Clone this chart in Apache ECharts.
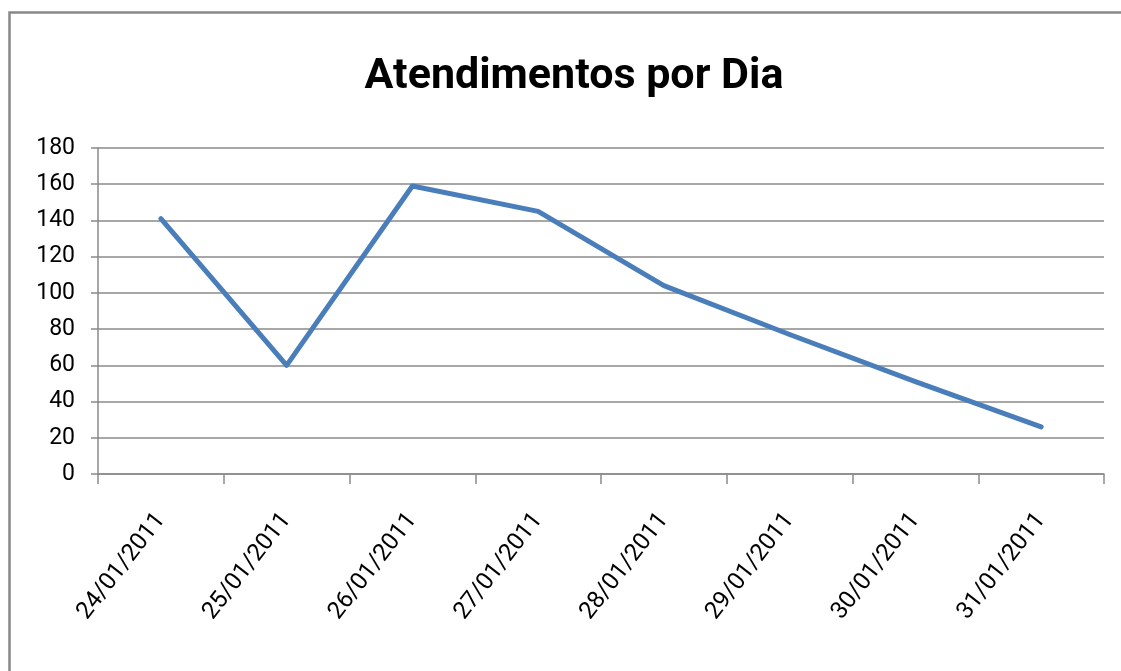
<!DOCTYPE html>
<html>
<head>
<meta charset="utf-8">
<script src="https://cdn.jsdelivr.net/npm/echarts@6/dist/echarts.min.js"></script>
<style>
html,body{margin:0;padding:0;background:#fff;}
#chart{width:1121px;height:671px;}
</style>
</head>
<body>
<div id="chart"></div>
<script>
const titleText = 'Atendimentos por Dia';
const categories = ['24/01/2011','25/01/2011','26/01/2011','27/01/2011','28/01/2011','29/01/2011','30/01/2011','31/01/2011'];
const values = [141, 60, 159, 145, 104, 77, 51, 26];
const yMin = 0, yMax = 180, yStep = 20;

const FONT = 'Roboto, "Open Sans", sans-serif';
const chart = echarts.init(document.getElementById('chart'), null, {renderer: 'canvas'});
chart.setOption({
  animation: false,
  backgroundColor: '#fff',
  title: {
    text: titleText,
    left: 569,
    textAlign: 'center',
    top: 51,
    textStyle: {fontFamily: FONT, fontWeight: 'bold', fontSize: 43, color: '#000'}
  },
  graphic: [{
    type: 'polyline',
    shape: {points: [[9.5, 671], [9.5, 12.5], [1121, 12.5]]},
    style: {stroke: '#888', lineWidth: 2.5, fill: null},
    silent: true
  }],
  grid: {left: 98, right: 17, top: 148, bottom: 197, containLabel: false},
  xAxis: {
    type: 'category',
    data: categories,
    boundaryGap: true,
    axisLine: {lineStyle: {color: '#8a8a8a', width: 1.5}},
    axisTick: {show: true, length: 10, lineStyle: {color: '#8a8a8a', width: 1.5}},
    axisLabel: {rotate: 52, margin: 42, fontFamily: FONT, fontSize: 24, color: '#000'}
  },
  yAxis: {
    type: 'value',
    min: yMin, max: yMax, interval: yStep,
    axisLine: {show: true, lineStyle: {color: '#8a8a8a', width: 1.5}},
    axisTick: {show: true, length: 7, lineStyle: {color: '#8a8a8a', width: 1.5}},
    splitLine: {show: true, lineStyle: {color: '#8a8a8a', width: 1.5}},
    axisLabel: {margin: 23, fontFamily: FONT, fontSize: 23, color: '#000'}
  },
  series: [{
    type: 'line',
    data: values,
    showSymbol: false,
    symbol: 'none',
    lineStyle: {color: '#4a7ebb', width: 5, cap: 'round', join: 'round'},
    itemStyle: {color: '#4a7ebb'}
  }]
});
</script>
</body>
</html>
